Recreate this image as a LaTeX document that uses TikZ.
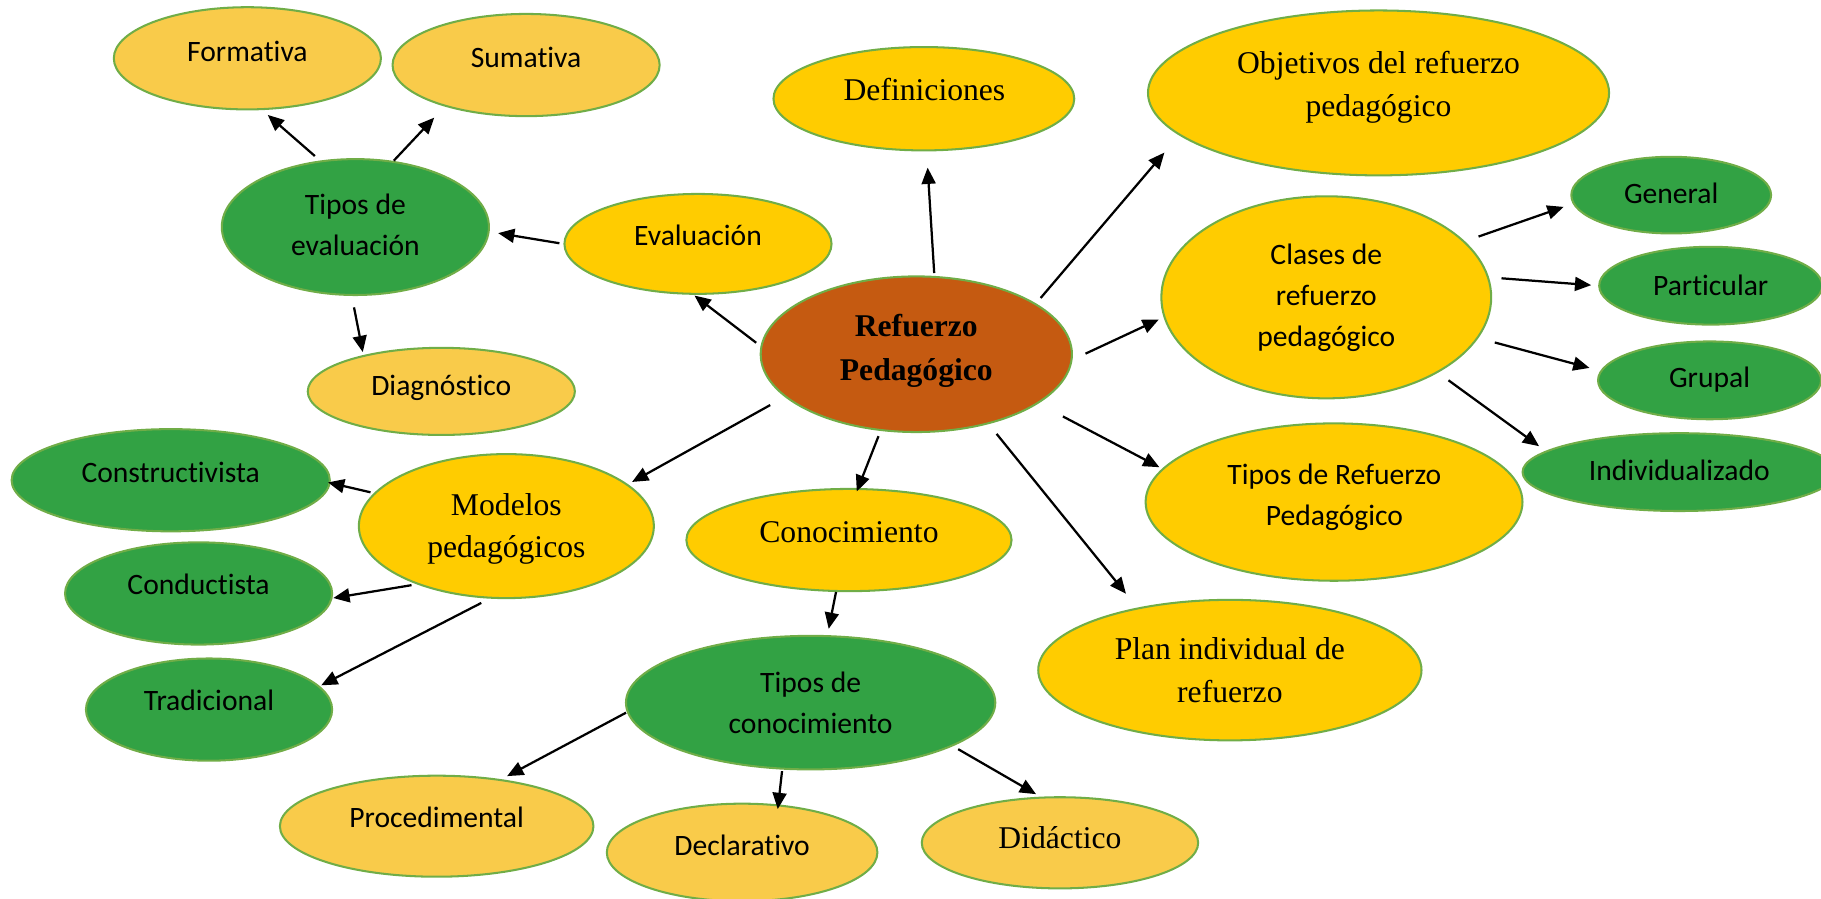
\documentclass[tikz,border=0pt]{standalone}
\usepackage{fontspec}
\newfontfamily\carl[Ligatures=NoCommon]{Carlito}
\newfontfamily\tms{Liberation Serif}
\usetikzlibrary{shapes.geometric,arrows.meta}
\definecolor{gold}{HTML}{FFCC00}
\definecolor{sand}{HTML}{F9CB4A}
\definecolor{leaf}{HTML}{32A244}
\definecolor{rust}{HTML}{C55A11}
\definecolor{rim}{HTML}{70AD47}
% invisible strut so every text line has the same height and depth
\newcommand\lstr{\rule[-0.22em]{0pt}{0.88em}}
\tikzset{
  oval/.style={ellipse, draw=rim, line width=1pt, inner sep=0pt},
  sandov/.style={oval, fill=sand},
  goldov/.style={oval, fill=gold},
  leafov/.style={oval, fill=leaf},
  rustov/.style={oval, fill=rust},
  lbl/.style={align=center, inner sep=0pt, yshift=-0.4mm},
  sanslbl/.style={lbl, font=\carl\fontsize{14.5}{20.2}\selectfont},
  seriflbl/.style={lbl, font=\tms\fontsize{15.5}{21}\selectfont},
  boldlbl/.style={lbl, font=\tms\bfseries\fontsize{15.5}{21.4}\selectfont},
  arr/.style={line width=1.1pt, -{Triangle[length=2.8mm,width=2.4mm]}},
}
\begin{document}
\begin{tikzpicture}[x=0.2mm,y=-0.2mm]
\useasboundingbox (0,0) rectangle (1568,774);
\clip (0,0) rectangle (1568,774);

% ---- ellipses ----
\node[sandov, minimum width=46mm, minimum height=17.6mm] (form) at (213,50.2) {};
\node[sandov, minimum width=46mm, minimum height=17.6mm] (sum) at (453,56) {};
\node[leafov, minimum width=46mm, minimum height=23.4mm] (te) at (306,195.5) {};
\node[goldov, minimum width=46mm, minimum height=17.2mm] (ev) at (601,210) {};
\node[sandov, minimum width=46mm, minimum height=15mm] (diag) at (380,337) {};
\node[goldov, minimum width=51.8mm, minimum height=17.8mm] (def) at (795.5,85) {};
\node[goldov, minimum width=79.4mm, minimum height=28.4mm] (obj) at (1187,80) {};
\node[rustov, minimum width=53.6mm, minimum height=26.8mm] (rp) at (789,305) {};
\node[goldov, minimum width=56.8mm, minimum height=34.8mm] (cl) at (1142,256) {};
\node[leafov, minimum width=34.4mm, minimum height=13.2mm] (gen) at (1439,168) {};
\node[leafov, minimum width=38.4mm, minimum height=13.4mm] (part) at (1473,246) {};
\node[leafov, minimum width=38.4mm, minimum height=13.4mm] (grup) at (1472,327.5) {};
\node[leafov, minimum width=54mm, minimum height=13.4mm] (ind) at (1446,406.5) {};
\node[goldov, minimum width=64.9mm, minimum height=27.1mm] (trp) at (1148.7,432.3) {};
\node[goldov, minimum width=66mm, minimum height=24.2mm] (plan) at (1059,577) {};
\node[goldov, minimum width=50.8mm, minimum height=24.8mm] (mod) at (436,453) {};
\node[goldov, minimum width=56mm, minimum height=17.6mm] (con) at (731,465) {};
\node[leafov, minimum width=54.8mm, minimum height=17.6mm] (cons) at (147,413.5) {};
\node[leafov, minimum width=46mm, minimum height=17.6mm] (cond) at (171,511) {};
\node[leafov, minimum width=42.4mm, minimum height=17.6mm] (trad) at (180,611) {};
\node[leafov, minimum width=63.6mm, minimum height=23mm] (tc) at (698,605) {};
\node[sandov, minimum width=54mm, minimum height=17.4mm] (proc) at (376,711.4) {};
\node[sandov, minimum width=46.6mm, minimum height=16.8mm] (decl) at (639,734) {};
\node[sandov, minimum width=47.6mm, minimum height=15.7mm] (did) at (912.7,725.7) {};

% ---- texts ----
\node[sanslbl] (form-t) at (213,45) {\lstr Formativa};
\node[sanslbl] (sum-t) at (453,50) {\lstr Sumativa};
\node[sanslbl] (te-t) at (306,194.5) {\lstr Tipos de\\\lstr evaluación};
\node[sanslbl] (ev-t) at (601,203) {\lstr Evaluación};
\node[sanslbl] (diag-t) at (380,333) {\lstr Diagnóstico};
\node[seriflbl] (def-t) at (796,78) {\lstr Definiciones};
\node[seriflbl] (obj-t) at (1187,73) {\lstr Objetivos del refuerzo\\\lstr pedagógico};
\node[boldlbl] (rp-t) at (789,300) {\lstr Refuerzo\\\lstr Pedagógico};
\node[sanslbl] (cl-t) at (1142,255) {\lstr Clases de\\\lstr refuerzo\\\lstr pedagógico};
\node[sanslbl] (gen-t) at (1439,167) {\lstr General};
\node[sanslbl] (part-t) at (1473,246) {\lstr Particular};
\node[sanslbl] (grup-t) at (1472,326) {\lstr Grupal};
\node[sanslbl] (ind-t) at (1446,406) {\lstr Individualizado};
\node[sanslbl] (trp-t) at (1149,427) {\lstr Tipos de Refuerzo\\\lstr Pedagógico};
\node[seriflbl] (plan-t) at (1059,578) {\lstr Plan individual de\\\lstr refuerzo};
\node[seriflbl] (mod-t) at (436,453.5) {\lstr Modelos\\\lstr pedagógicos};
\node[seriflbl] (con-t) at (731,459) {\lstr Conocimiento};
\node[sanslbl] (cons-t) at (147,407.5) {\lstr Constructivista};
\node[sanslbl] (cond-t) at (171,504) {\lstr Conductista};
\node[sanslbl] (trad-t) at (180,604) {\lstr Tradicional};
\node[sanslbl] (tc-t) at (698,606) {\lstr Tipos de\\\lstr conocimiento};
\node[sanslbl] (proc-t) at (376,704.6) {\lstr Procedimental};
\node[sanslbl] (decl-t) at (639,729) {\lstr Declarativo};
\node[seriflbl] (did-t) at (912.7,722) {\lstr Didáctico};

% ---- connectors ----
\draw[arr, shorten <=1.18mm, shorten >=1.26mm] (te.118.9) -- (form.-74.3);
\draw[arr, shorten <=0.06mm, shorten >=2.62mm] (te.60.5) -- (sum.-153.2);
\draw[arr, shorten <=0.7mm, shorten >=1.48mm] (ev.180) -- (te.-2.3);
\draw[arr, shorten <=2mm, shorten >=0.52mm] (te.-93.3) -- (diag.155.6);
\draw[arr, shorten <=0.94mm, shorten >=0.2mm] (rp.177.1) -- (ev.-95.2);
\draw[arr, shorten <=0.5mm, shorten >=2.8mm] (rp.77.3) -- (def.-87.7);
\draw[arr, shorten <=1.22mm, shorten >=3.9mm] (rp.23) -- (obj.-168.6);
\draw[arr, shorten <=2.46mm, shorten >=0.9mm] (rp.-2) -- (cl.-173.4);
\draw[arr, shorten <=2.48mm, shorten >=1.66mm] (cl.22.1) -- (gen.-175.7);
\draw[arr, shorten <=2.16mm, shorten >=1.2mm] (cl.7) -- (part.180);
\draw[arr, shorten <=2.92mm, shorten >=1.92mm] (cl.-15.2) -- (grup.175.3);
\draw[arr, shorten <=2.22mm, shorten >=1.38mm] (cl.-34.3) -- (ind.171.9);
\draw[arr, shorten <=4.76mm, shorten >=0.52mm] (rp.-22.6) -- (trp.169.7);
\draw[arr, shorten <=2.16mm, shorten >=3.08mm] (rp.-44.8) -- (plan.146.1);
\draw[arr, shorten <=0.96mm, shorten >=-0.64mm] (rp.-115.4) -- (con.80.4);
\draw[arr, shorten <=2.86mm, shorten >=0.8mm] (rp.-162.5) -- (mod.19);
\draw[arr, shorten <=0.6mm, shorten >=-0.46mm] (mod.166.7) -- (cons.-1.4);
\draw[arr, shorten <=0.9mm, shorten >=0.12mm] (mod.-147.6) -- (cond.-2.1);
\draw[arr, shorten <=1.62mm, shorten >=0.28mm] (mod.-103.8) -- (trad.12);
\draw[arr, shorten >=1.1mm] (con.-104.2) -- (tc.76.8);
\draw[arr, shorten <=0.16mm, shorten >=1.12mm] (tc.-177.2) -- (proc.36.7);
\draw[arr, shorten <=0.26mm, shorten >=-0.8mm] (tc.-113.2) -- (decl.53.8);
\draw[arr, shorten <=1.04mm, shorten >=0.86mm] (tc.-17.5) -- (did.113.9);
\end{tikzpicture}
\end{document}
